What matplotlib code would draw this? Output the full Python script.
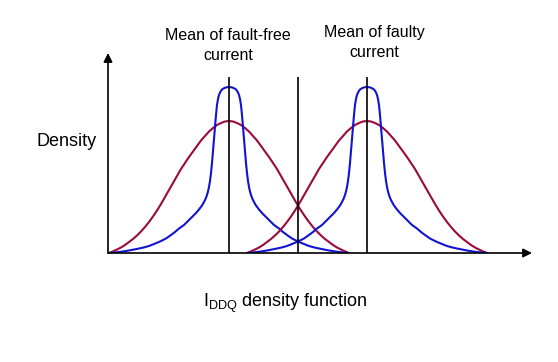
"""
IDDQ density function: fault-free vs faulty current distributions.
"""
import matplotlib
matplotlib.use("Agg")
import matplotlib.pyplot as plt
import numpy as np

plt.rcParams["font.family"] = ["Liberation Sans", "DejaVu Sans"]
plt.rcParams["mathtext.fontset"] = "custom"
plt.rcParams["mathtext.rm"] = "Liberation Sans"
plt.rcParams["mathtext.it"] = "Liberation Sans"

# positions along the current axis (arbitrary units)
fault_free_mean = 121
faulty_mean = 259
threshold = 190

# narrow distribution (blue): distance from mean -> density
blue_offset = [0, 3, 5, 7, 8, 9, 10, 11, 12, 13, 14, 15, 16, 17, 18, 19, 20,
               21, 22, 23.5, 25, 27, 30, 33, 37, 41, 45, 50, 54, 58, 63, 69,
               75, 80, 85, 90, 95, 100, 105, 110, 115, 120]
blue_density = [166, 165.6, 164.8, 163.5, 162.2, 160.5, 158, 154, 148, 138,
                126, 114, 102, 90, 80, 72, 66, 61.5, 58, 54, 51, 47.5, 43.5,
                40, 36, 32, 28, 24.5, 21, 18, 14.5, 11.5, 9, 7, 5.6, 4.5,
                3.5, 2.5, 1.7, 1, 0.4, 0]

# wide distribution (red): distance from mean -> density
red_offset = [0, 4, 8, 12, 16, 20, 24, 28, 32, 36, 40, 44, 48, 52, 56, 60, 64,
              68, 72, 76, 80, 84, 88, 92, 96, 100, 104, 108, 112, 116, 120]
red_density = [132, 131.5, 130, 128, 125, 121.5, 117, 112.5, 107, 101.5, 96,
               90, 84, 77, 70, 63, 56, 49, 42.5, 36.5, 31, 26, 21.5, 17.5,
               14, 11, 8, 5.5, 3.5, 1.6, 0]

mean_line_top = 176

BLUE = "#1212d2"
RED = "#9a0a3c"


def mirrored(mean, offset, density):
    off = np.asarray(offset, dtype=float)
    dens = np.asarray(density, dtype=float)
    x = np.concatenate([mean - off[::-1], mean + off[1:]])
    y = np.concatenate([dens[::-1], dens[1:]])
    return x, y


fig = plt.figure(figsize=(5.58, 3.62), dpi=100)
ax = fig.add_axes([108 / 558, 109 / 362, 424 / 558, 200 / 362])
ax.set_xlim(0, 424)
ax.set_ylim(0, 200)
ax.axis("off")

for mean in (fault_free_mean, faulty_mean):
    x, y = mirrored(mean, red_offset, red_density)
    ax.plot(x, y, color=RED, lw=1.5, solid_joinstyle="round")
    x, y = mirrored(mean, blue_offset, blue_density)
    ax.plot(x, y, color=BLUE, lw=1.5, solid_joinstyle="round")

ax.vlines([fault_free_mean, threshold, faulty_mean], 0, mean_line_top,
          color="black", lw=1.2)

# axes with arrow heads
arrow = dict(arrowstyle="-|>", mutation_scale=13, lw=1.2, color="black",
             shrinkA=0, shrinkB=0)
ax.annotate("", xy=(1, 0), xytext=(0, 0), xycoords="axes fraction",
            arrowprops=arrow)
ax.annotate("", xy=(0, 1), xytext=(0, 0), xycoords="axes fraction",
            arrowprops=arrow)

ax.text(fault_free_mean - 1, 207.5, "Mean of fault-free\ncurrent",
        ha="center", va="center", fontsize=11.5, linespacing=1.4,
        clip_on=False)
ax.text(faulty_mean + 7, 210.5, "Mean of faulty\ncurrent", ha="center",
        va="center", fontsize=11.5, linespacing=1.4, clip_on=False)

fig.text(36 / 558, 1 - 142 / 362, "Density", ha="left", va="center",
         fontsize=13)
fig.text(203 / 558, 1 - 307 / 362, r"I$_{\mathrm{DDQ}}$ density function",
         ha="left", va="baseline", fontsize=13)

fig.savefig("out.png", dpi=100)
